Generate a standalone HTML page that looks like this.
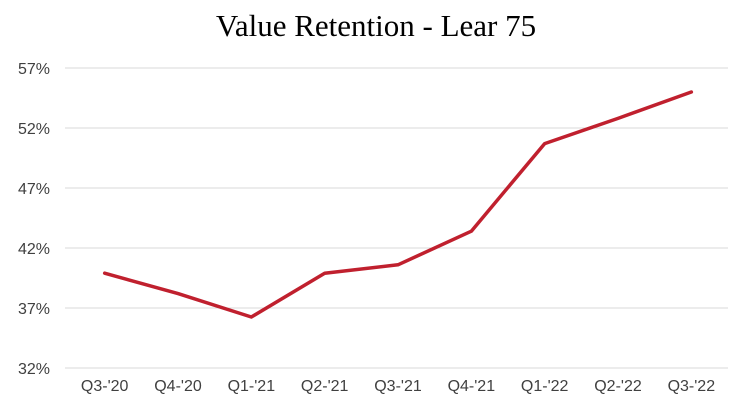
<!DOCTYPE html>
<html><head><meta charset="utf-8"><style>
body{margin:0;background:#fff;}
svg{display:block;font-family:"Liberation Sans",sans-serif;}
</style></head><body>
<svg id="chart" width="736" height="405" viewBox="0 0 736 405">
<text x="376" y="36" text-anchor="middle" font-family="Liberation Serif, serif" font-size="31" fill="#000">Value Retention - Lear 75</text>
<g id="grid"></g><g id="yticks"></g><g id="xticks"></g><g id="series"></g>
</svg>
<script>
const categories=["Q3-'20","Q4-'20","Q1-'21","Q2-'21","Q3-'21","Q4-'21","Q1-'22","Q2-'22","Q3-'22"];
const values=[39.9,38.2,36.25,39.9,40.6,43.4,50.7,52.8,55.0];
const yTicks=[32,37,42,47,52,57];
const L=68,R=728,yMin=32,yMax=57,yTop=68,yBot=368;
const NS="http://www.w3.org/2000/svg";
function y(v){return yBot-(v-yMin)/(yMax-yMin)*(yBot-yTop);}
function x(i){const w=(R-L)/categories.length;return L+w*(i+0.5);}
function mk(t,a,p){const e=document.createElementNS(NS,t);for(const k in a)e.setAttribute(k,a[k]);p.appendChild(e);return e;}
const g=document.getElementById('grid'),yt=document.getElementById('yticks'),xt=document.getElementById('xticks'),s=document.getElementById('series');
yTicks.forEach(v=>{
 const l=mk('line',{x1:L-3,x2:R,y1:y(v),y2:y(v),stroke:'#d9d9d9','stroke-width':1},g);
 
 
 const t=mk('text',{x:50,y:y(v)+6,'text-anchor':'end','font-size':16,fill:'#404040'},yt);
 t.textContent=v+'%';
 
 
});
categories.forEach((c,i)=>{
 const t=mk('text',{x:x(i),y:391,'text-anchor':'middle','font-size':16,fill:'#404040'},xt);
 t.textContent=c;
 
 
});
const p=mk('polyline',{points:values.map((v,i)=>x(i)+','+y(v)).join(' '),fill:'none',stroke:'#c0202e','stroke-width':3.5,'stroke-linejoin':'round','stroke-linecap':'round'},s);


</script>
</body></html>
